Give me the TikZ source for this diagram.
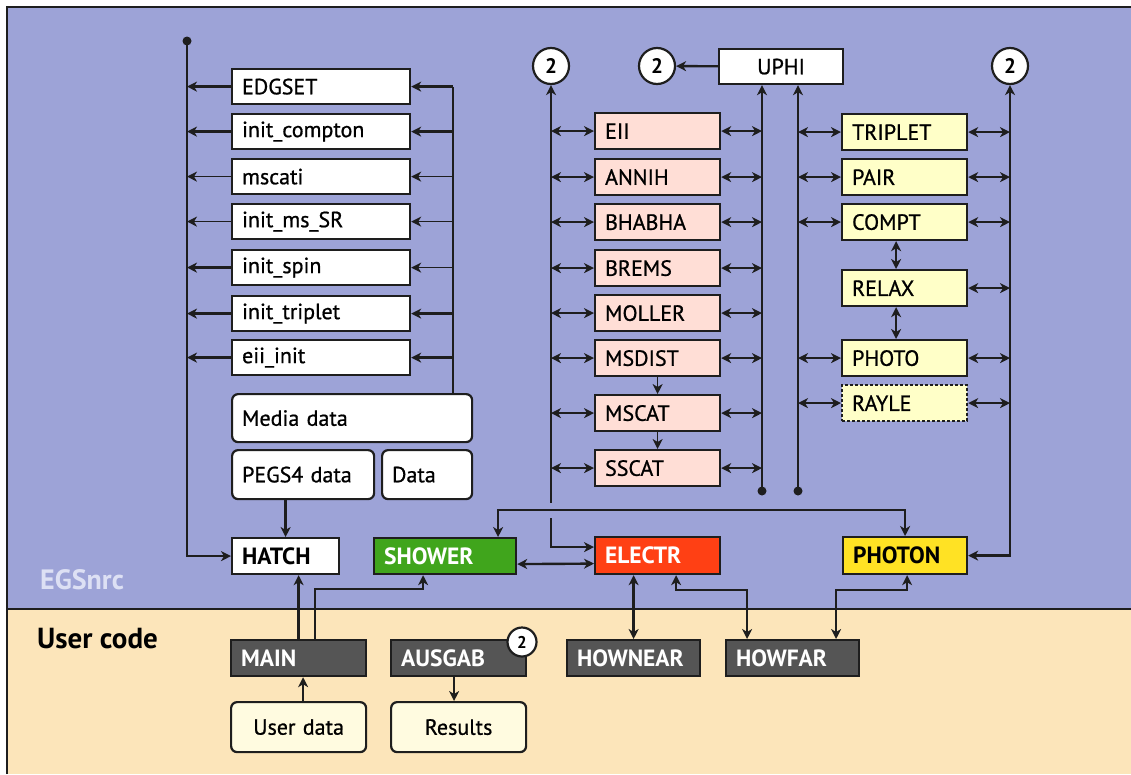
\documentclass[tikz,border=0pt]{standalone}
\usepackage{fontspec}
\setmainfont{PT Sans}
\newfontfamily\lblfont{PT Sans}[FakeBold=0.8]
\usetikzlibrary{arrows.meta,calc}
\definecolor{bgpurple}{RGB}{157,163,215}
\definecolor{bgbeige}{RGB}{252,229,186}
\definecolor{pinkbox}{RGB}{255,222,214}
\definecolor{ylwbox}{RGB}{255,255,200}
\definecolor{showergreen}{RGB}{64,165,28}
\definecolor{electrred}{RGB}{255,64,20}
\definecolor{photonyellow}{RGB}{255,226,36}
\definecolor{usergray}{RGB}{85,85,85}
\definecolor{lineblack}{RGB}{30,30,30}
\definecolor{egstext}{RGB}{221,224,244}
\definecolor{userdatafill}{RGB}{255,251,224}
\tikzset{
  >={Stealth[length=10pt,width=10pt,inset=3pt]},
  base/.style={draw=lineblack, line width=2.2pt, anchor=north west, inner xsep=10pt, inner ysep=0pt,
    font=\lblfont\fontsize{22}{26}\selectfont, align=left, rectangle},
  boldlbl/.style={font=\fontsize{23.5}{27}\selectfont\bfseries},
  wbox/.style={base, fill=white},
  pbox/.style={base, fill=pinkbox},
  ybox/.style={base, fill=ylwbox},
  rbox/.style={base, fill=white, rounded corners=6pt},
  ubox/.style={base, fill=userdatafill, rounded corners=6pt, align=center},
  gbox/.style={base, fill=usergray, text=white, boldlbl},
  circ/.style={circle, draw=lineblack, line width=2.2pt, fill=white, minimum size=36pt, inner sep=0pt,
    font=\fontsize{21}{24}\selectfont\bfseries},
  conn/.style={draw=lineblack, line width=2.4pt},
  thinc/.style={draw=lineblack, line width=1.5pt},
}
\begin{document}
\begin{tikzpicture}[x=1pt,y=-1pt]
\useasboundingbox (0,0) rectangle (1131,774);
% background
\fill[white] (0,0) rectangle (1131,774);
\fill[bgpurple] (7,7) rectangle (1131,609);
\fill[bgbeige] (7,609) rectangle (1131,774);
\draw[lineblack, line width=2.5pt] (7,774) -- (7,7) -- (1131,7);
\draw[lineblack, line width=2.5pt] (7,609) -- (1131,609);
\node[anchor=west, text=egstext, font=\fontsize{28}{32}\selectfont\bfseries, inner sep=0pt] (egs) at (40,580) {EGSnrc};
\node[anchor=west, text=black, font=\fontsize{29}{33}\selectfont\bfseries, inner sep=0pt] (usercode) at (37,639) {User code};

% left column
\node[wbox, text width=158pt, minimum height=35pt] (edgset) at (231,68) {EDGSET};
\node[wbox, text width=158pt, minimum height=35pt] (compton) at (231,113) {init\_compton};
\node[wbox, text width=158pt, minimum height=35pt] (mscati) at (231,158) {mscati};
\node[wbox, text width=158pt, minimum height=35pt] (msSR) at (231,203) {init\_ms\_SR};
\node[wbox, text width=158pt, minimum height=35pt] (spin) at (231,249) {init\_spin};
\node[wbox, text width=158pt, minimum height=35pt] (triplet) at (231,295) {init\_triplet};
\node[wbox, text width=158pt, minimum height=35pt] (eii) at (231,339) {eii\_init};
\node[rbox, text width=220pt, minimum height=48pt] (media) at (231,393) {Media data};
\node[rbox, text width=122pt, minimum height=49pt] (pegs) at (231,449) {PEGS4 data};
\node[rbox, text width=70pt, minimum height=49pt] (data) at (381,449) {Data};

% main row
\node[wbox, text width=87pt, minimum height=36pt, boldlbl] (hatch) at (231,537) {HATCH};
\node[base, fill=showergreen, text=white, text width=122pt, minimum height=36pt, boldlbl] (shower) at (373,537) {SHOWER};
\node[base, fill=electrred, text=white, text width=105pt, minimum height=37pt, boldlbl] (electr) at (594,536) {ELECTR};
\node[base, fill=photonyellow, text=black, text width=104pt, minimum height=37pt, boldlbl] (photon) at (842,536) {PHOTON};

% user code
\node[gbox, text width=115pt, minimum height=36pt] (main) at (230,639) {MAIN};
\node[gbox, text width=115pt, minimum height=36pt] (ausgab) at (390,639) {AUSGAB};
\node[gbox, text width=113pt, minimum height=36pt] (hownear) at (566,639) {HOWNEAR};
\node[gbox, text width=113pt, minimum height=36pt] (howfar) at (725,639) {HOWFAR};
\node[ubox, text width=115pt, minimum height=50pt] (udata) at (230,701) {User data};
\node[ubox, text width=115pt, minimum height=50pt] (results) at (390,701) {Results};
\node[circ, minimum size=29pt, font=\fontsize{17}{19}\selectfont\bfseries] (c4) at (522,642) {2};

% middle column
\node[circ] (c1) at (551,66) {2};
\node[circ] (c2) at (657,66) {2};
\node[circ] (c3) at (1010,66) {2};
\node[wbox, align=center, text width=104pt, minimum height=35pt] (uphi) at (718,48) {UPHI};
\node[pbox, text width=105pt, minimum height=36pt] (eiib) at (594,112) {EII};
\node[pbox, text width=105pt, minimum height=36pt] (annih) at (594,158) {ANNIH};
\node[pbox, text width=105pt, minimum height=36pt] (bhabha) at (594,203) {BHABHA};
\node[pbox, text width=105pt, minimum height=36pt] (brems) at (594,249) {BREMS};
\node[pbox, text width=105pt, minimum height=36pt] (moller) at (594,294) {MOLLER};
\node[pbox, text width=105pt, minimum height=36pt] (msdist) at (594,339) {MSDIST};
\node[pbox, text width=105pt, minimum height=36pt] (mscat) at (594,394) {MSCAT};
\node[pbox, text width=105pt, minimum height=36pt] (sscat) at (594,449) {SSCAT};

% right column
\node[ybox, text width=105pt, minimum height=36pt] (tripletb) at (841,113) {TRIPLET};
\node[ybox, text width=105pt, minimum height=36pt] (pair) at (841,158) {PAIR};
\node[ybox, text width=105pt, minimum height=36pt] (compt) at (841,203) {COMPT};
\node[ybox, text width=105pt, minimum height=36pt] (relax) at (841,269) {RELAX};
\node[ybox, text width=105pt, minimum height=36pt] (photo) at (841,339) {PHOTO};
\node[ybox, text width=105pt, minimum height=36pt, dashed, dash pattern=on 3pt off 2pt] (rayle) at (841,384) {RAYLE};

% coordinates
\coordinate (ltop) at (187,41);
\coordinate (rl) at (453,85);
\coordinate (d1) at (762,491);
\coordinate (d2) at (798,491);

% left column connectors
\draw[conn,->] (ltop) |- (hatch);
\fill[lineblack] (ltop) circle[radius=4.5pt];
\foreach \n/\a/\b in {edgset/conn/conn, compton/conn/conn, mscati/thinc/thinc, msSR/thinc/thinc,
  spin/conn/thinc, triplet/conn/conn, eii/conn/conn} {
  \draw[\a,->] (\n.west) -- (\n.west -| ltop);
  \draw[\b,->] (\n.east -| rl) -- (\n.east);
}
\draw[conn, line width=2pt] (media.north -| rl) -- (edgset.east -| rl);
\draw[conn,->] (pegs.south -| hatch.north) -- (hatch.north);

% middle column connectors
\draw[conn,<->] (c1) |- ([yshift=8.5pt]electr.west);
\fill[bgpurple] (547,503) rectangle (555,518);
\draw[conn,<->] ([xshift=53pt]shower.north) -- ++(0,-27) -| (photon.north);
\foreach \n/\a/\b in {eiib/conn/conn, annih/thinc/thinc, bhabha/thinc/conn, brems/conn/conn,
  moller/conn/conn, msdist/thinc/conn, mscat/thinc/conn, sscat/conn/conn} {
  \draw[\a,<->] (\n.west -| c1) -- (\n.west);
  \draw[\b,<->] (\n.east) -- (\n.east -| d1);
}
\draw[thinc,->] (msdist) -- (mscat);
\draw[thinc,->] (mscat) -- (sscat);
\draw[conn,->] (d1) -- (d1 |- uphi.south);
\draw[conn,->] (d2) -- (d2 |- uphi.south);
\fill[lineblack] (d1) circle[radius=4.5pt];
\fill[lineblack] (d2) circle[radius=4.5pt];
\draw[conn,->] (uphi) -- (c2);

% right column connectors
\draw[conn,<->] (c3) |- (photon);
\foreach \n/\a/\b in {tripletb/conn/conn, pair/thinc/thinc, compt/thinc/thinc, photo/conn/conn, rayle/conn/conn} {
  \draw[\a,<->] (\n.west -| d2) -- (\n.west);
  \draw[\b,<->] (\n.east) -- (\n.east -| c3);
}
\draw[conn,<->] (relax.east) -- (relax.east -| c3);
\draw[conn,<->] ([xshift=-8.5pt]compt.south) -- ([xshift=-8.5pt]relax.north);
\draw[conn,<->] ([xshift=-8.5pt]relax.south) -- ([xshift=-8.5pt]photo.north);

% bottom connectors
\draw[conn,<->] ([yshift=-8pt]shower.east) -- ([yshift=-8pt]electr.west);
\draw[conn,->] (main.north) -- (main.north |- hatch.south);
\draw[conn,->] ([xshift=16.5pt]main.north) -- ++(0,-50) -| ([xshift=-22pt]shower.south);
\draw[conn,->] ([xshift=4.5pt]udata.north) -- ([xshift=4.5pt]main.south);
\draw[thinc,->] ([xshift=-4.5pt]ausgab.south) -- ([xshift=-4.5pt]results.north);
\draw[conn,<->] (hownear.north |- electr.south) -- (hownear.north);
\draw[conn,<->] ([xshift=18.5pt]electr.south) -- ++(0,15) -| ([xshift=-45.5pt]howfar.north);
\draw[thinc,<->] ([xshift=2pt]photon.south) -- ++(0,15) -| ([xshift=43.5pt]howfar.north);
\end{tikzpicture}
\end{document}
